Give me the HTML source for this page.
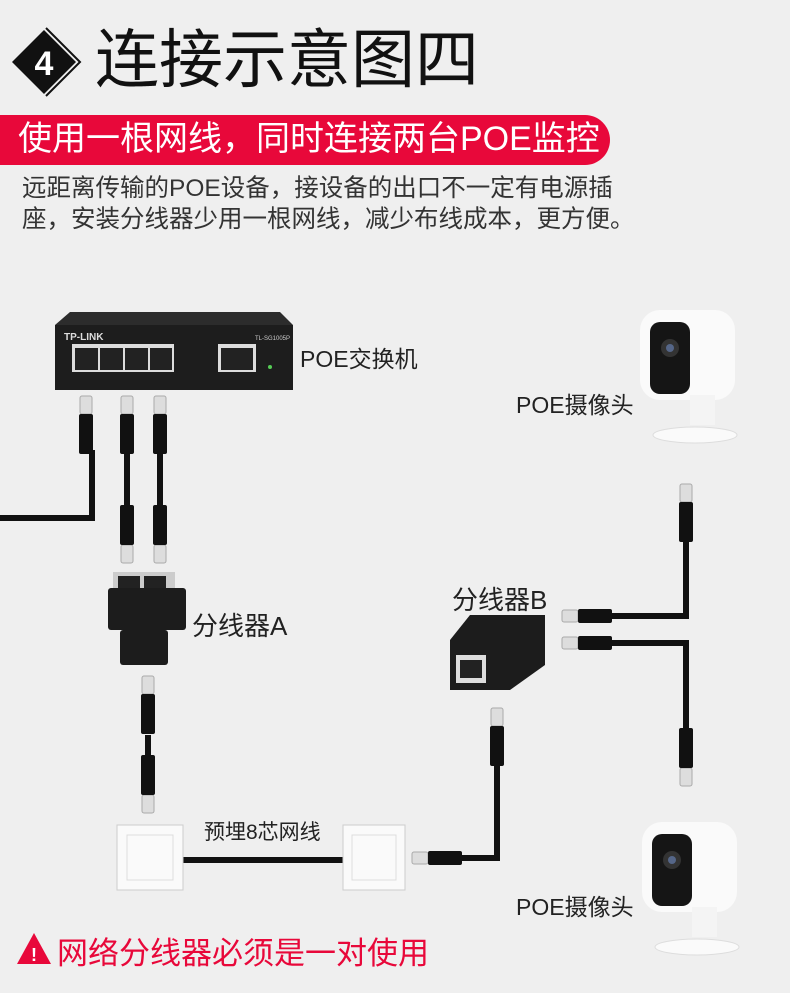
<!DOCTYPE html>
<html><head><meta charset="utf-8"><style>
body{margin:0;width:790px;height:993px;background:#efefef;overflow:hidden;position:relative;font-family:"Liberation Sans","Noto Sans CJK SC",sans-serif}
.t{position:absolute;white-space:nowrap}
</style></head><body>
<svg width="790" height="993" style="position:absolute;left:0;top:0">
<defs>
<g id="cd"><rect x="-6" y="0" width="12" height="18" rx="2" fill="#ddd" stroke="#aaa"/><rect x="-7" y="18" width="14" height="40" rx="2" fill="#111"/></g>
<g id="cu"><rect x="-6" y="40" width="12" height="18" rx="2" fill="#ddd" stroke="#aaa"/><rect x="-7" y="0" width="14" height="40" rx="2" fill="#111"/></g>
<g id="cam">
<rect x="0" y="0" width="95" height="90" rx="20" fill="#fafafa"/>
<rect x="10" y="12" width="40" height="72" rx="10" fill="#151515"/>
<circle cx="30" cy="38" r="9" fill="#333"/><circle cx="30" cy="38" r="4" fill="#568"/>
<rect x="50" y="85" width="25" height="30" fill="#f4f4f4"/>
<ellipse cx="55" cy="125" rx="42" ry="8" fill="#fafafa" stroke="#ddd"/>
</g>
</defs>
<!-- title diamond -->
<polygon points="44,30 76,62 44,94 12,62" fill="#111"/>
<polyline points="46,28 80,62 46,96" fill="none" stroke="#111" stroke-width="2"/>
<text x="44" y="75" font-size="34" font-weight="bold" fill="#fff" text-anchor="middle" font-family="Liberation Sans,sans-serif">4</text>
<!-- banner -->
<path d="M0,115 H585 A25,25 0 0 1 585,165 H0 Z" fill="#e8083a"/>
<!-- switch -->
<polygon points="70,312 280,312 293,325 55,325" fill="#2c2c2c"/>
<rect x="55" y="325" width="238" height="65" fill="#1d1d1d"/>
<text x="64" y="340" font-size="10" font-weight="bold" fill="#ddd">TP-LINK</text>
<text x="255" y="340" font-size="6" fill="#ccc">TL-SG1005P</text>
<g fill="#ddd"><rect x="72" y="344" width="102" height="28"/><rect x="218" y="344" width="38" height="28"/></g>
<g fill="#222"><rect x="75" y="348" width="23" height="22"/><rect x="100" y="348" width="23" height="22"/><rect x="125" y="348" width="23" height="22"/><rect x="150" y="348" width="22" height="22"/><rect x="221" y="348" width="32" height="22"/></g>
<circle cx="270" cy="367" r="2" fill="#5c5"/>
<!-- cables -->
<g stroke="#111" stroke-width="6" fill="none">
<polyline points="0,518 92,518 92,450"/>
<line x1="127" y1="450" x2="127" y2="510"/><line x1="160" y1="450" x2="160" y2="510"/>
<line x1="148" y1="735" x2="148" y2="765"/>
<line x1="183" y1="860" x2="343" y2="860"/>
<polyline points="440,858 497,858 497,760"/>
<polyline points="605,616 686,616 686,540"/>
<polyline points="605,643 686,643 686,730"/>
</g>
<use href="#cd" x="86" y="396"/><use href="#cd" x="127" y="396"/><use href="#cd" x="160" y="396"/>
<use href="#cu" x="127" y="505"/><use href="#cu" x="160" y="505"/>
<use href="#cd" x="148" y="676"/><use href="#cu" x="148" y="755"/>
<use href="#cd" x="497" y="708"/><use href="#cd" x="686" y="484"/><use href="#cu" x="686" y="728"/>
<!-- horizontal connectors -->
<rect x="412" y="852" width="16" height="12" rx="2" fill="#ddd" stroke="#aaa"/><rect x="428" y="851" width="34" height="14" rx="2" fill="#111"/>
<rect x="562" y="610" width="16" height="12" rx="2" fill="#ddd" stroke="#aaa"/><rect x="578" y="609" width="34" height="14" rx="2" fill="#111"/>
<rect x="562" y="637" width="16" height="12" rx="2" fill="#ddd" stroke="#aaa"/><rect x="578" y="636" width="34" height="14" rx="2" fill="#111"/>
<!-- splitter A -->
<rect x="113" y="572" width="62" height="18" fill="#ccc"/>
<rect x="118" y="576" width="22" height="12" fill="#222"/><rect x="144" y="576" width="22" height="12" fill="#222"/>
<rect x="108" y="588" width="78" height="42" rx="3" fill="#1c1c1c"/>
<rect x="120" y="630" width="48" height="35" rx="3" fill="#1c1c1c"/>
<!-- splitter B -->
<polygon points="470,615 545,615 545,665 510,690 450,690 450,640" fill="#1c1c1c"/>
<rect x="456" y="655" width="30" height="28" fill="#ddd"/><rect x="460" y="660" width="22" height="18" fill="#222"/>
<!-- wall plates -->
<rect x="117" y="825" width="66" height="65" fill="#fafafa" stroke="#ccc"/><rect x="127" y="835" width="46" height="45" fill="none" stroke="#ddd"/>
<rect x="343" y="825" width="62" height="65" fill="#fafafa" stroke="#ccc"/><rect x="352" y="835" width="44" height="45" fill="none" stroke="#ddd"/>
<use href="#cam" x="640" y="310"/>
<use href="#cam" x="642" y="822"/>
<!-- warning -->
<polygon points="34,933 51,964 17,964" fill="#e8083a"/>
<text x="34" y="961" font-size="18" font-weight="bold" fill="#fff" text-anchor="middle">!</text>
</svg>
<div class="t" style="left:95px;top:18px;font-size:64px;color:#111;line-height:84px">连接示意图四</div>
<div class="t" style="left:18px;top:116px;font-size:34px;color:#fff;line-height:46px">使用一根网线，同时连接两台POE监控</div>
<div class="t" style="left:22px;top:173px;font-size:24.5px;color:#333;line-height:31px">远距离传输的POE设备，接设备的出口不一定有电源插<br>座，安装分线器少用一根网线，减少布线成本，更方便。</div>
<div class="t" style="left:300px;top:340px;font-size:23px;color:#222">POE交换机</div>
<div class="t" style="left:516px;top:386px;font-size:23px;color:#222">POE摄像头</div>
<div class="t" style="left:192px;top:606px;font-size:26px;color:#222">分线器A</div>
<div class="t" style="left:452px;top:580px;font-size:26px;color:#222">分线器B</div>
<div class="t" style="left:204px;top:816px;font-size:21px;color:#222">预埋8芯网线</div>
<div class="t" style="left:516px;top:888px;font-size:23px;color:#222">POE摄像头</div>
<div class="t" style="left:57px;top:928px;font-size:31px;color:#e8083a">网络分线器必须是一对使用</div>
</body></html>
